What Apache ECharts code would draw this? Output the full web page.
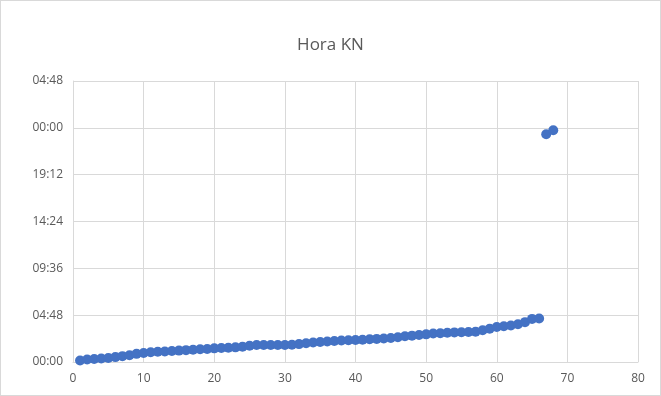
<!DOCTYPE html>
<html>
<head>
<meta charset="utf-8">
<script src="https://cdn.jsdelivr.net/npm/echarts@6/dist/echarts.min.js"></script>
<style>
html,body{margin:0;padding:0;background:#fff;}
#c{width:659px;height:394px;border:1px solid #d9d9d9;}
</style>
</head>
<body>
<div id="c"></div>
<script>
const title = "Hora KN";
const xValues = [1,2,3,4,5,6,7,8,9,10,11,12,13,14,15,16,17,18,19,20,21,22,23,24,25,26,27,28,29,30,31,32,33,34,35,36,37,38,39,40,41,42,43,44,45,46,47,48,49,50,51,52,53,54,55,56,57,58,59,60,61,62,63,64,65,66,67,68];
// time of day in minutes
const minutes = [9,15,18,22,25,30,36,42,50,55,60,63,65,68,70,73,75,78,80,84,86,88,90,94,100,104,104,105,105,105,106,110,115,120,123,126,129,132,134,135,137,140,142,145,148,152,158,162,166,170,175,177,180,182,183,185,186,195,205,215,220,225,232,245,265,268,1400,1425];
const yTickLabels = ["00:00","04:48","09:36","14:24","19:12","00:00","04:48"];

const chart = echarts.init(document.getElementById('c'));
const data = xValues.map((x,i)=>[x, minutes[i]]);
chart.setOption({
  animation:false,
  title:{text:title,left:'center',top:31,textStyle:{fontFamily:'Open Sans, sans-serif',fontSize:17,fontWeight:'normal',color:'#595959'}},
  grid:{left:72,right:22,top:80,bottom:33},
  xAxis:{type:'value',min:0,max:80,interval:10,
    axisLine:{show:true,lineStyle:{color:'#d9d9d9'}},axisTick:{show:false},
    splitLine:{show:true,lineStyle:{color:'#d9d9d9'}},
    axisLabel:{color:'#595959',fontSize:12,fontFamily:'Open Sans, sans-serif',margin:11}},
  yAxis:{type:'value',min:0,max:1728,interval:288,
    axisLine:{show:true,lineStyle:{color:'#d9d9d9'}},axisTick:{show:false},
    splitLine:{show:true,lineStyle:{color:'#d9d9d9'}},
    axisLabel:{color:'#595959',fontSize:12,fontFamily:'Open Sans, sans-serif',margin:10,
      formatter:function(v){return yTickLabels[Math.round(v/288)];}}},
  series:[{type:'scatter',data:data,symbol:'circle',symbolSize:10,
    itemStyle:{color:'#4472C4',opacity:1}}]
});
</script>
</body>
</html>
